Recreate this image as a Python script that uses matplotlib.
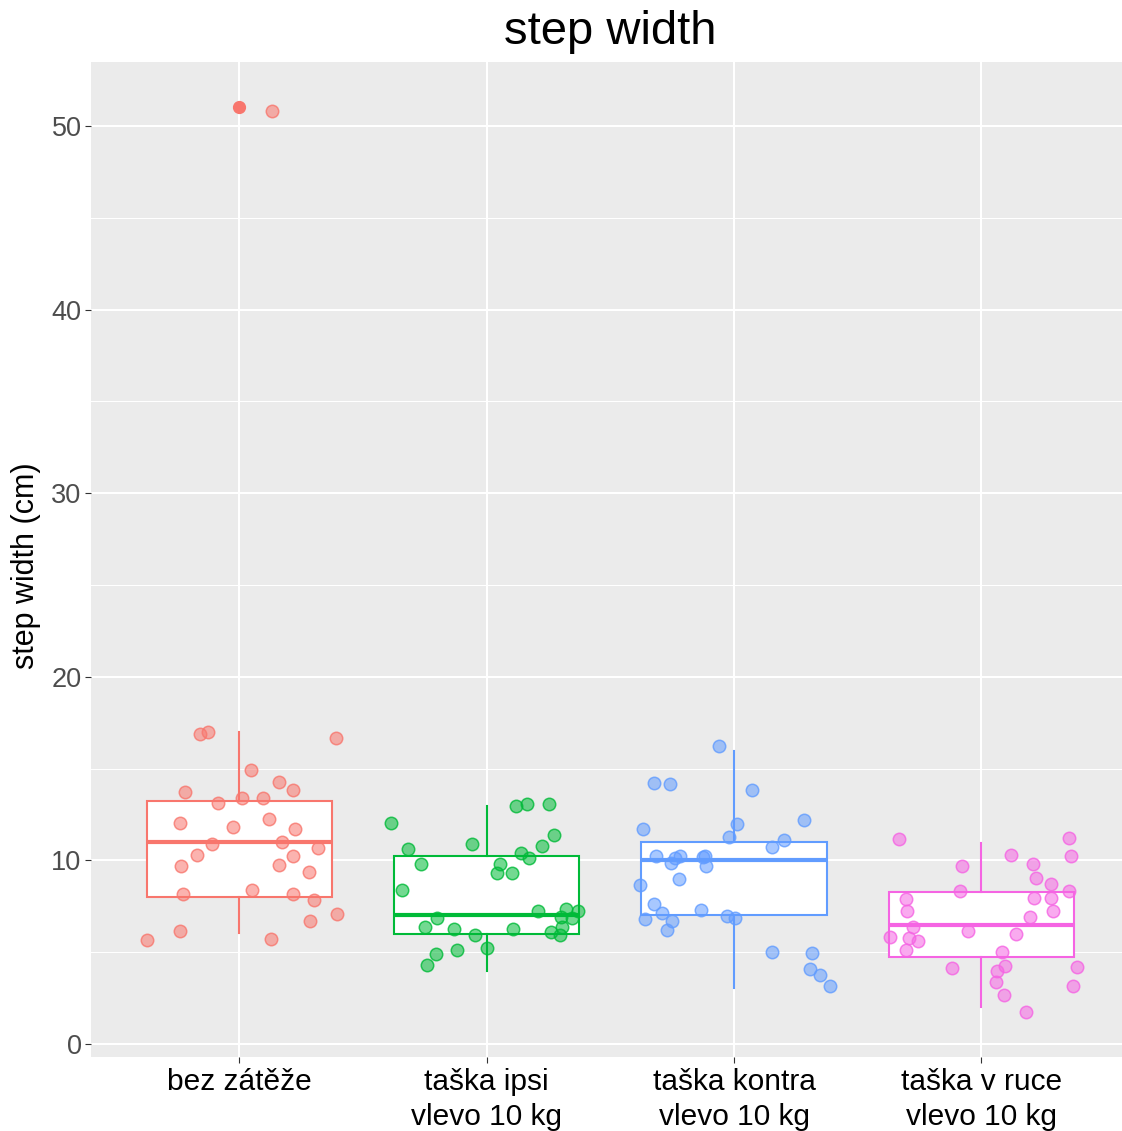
import matplotlib
matplotlib.use("Agg")
import matplotlib.pyplot as plt
import matplotlib.colors as mcolors
import numpy as np

plt.rcParams['font.family'] = ['Liberation Sans', 'DejaVu Sans']

# ---- data ----
categories = ["bez zátěže", "taška ipsi\nvlevo 10 kg", "taška kontra\nvlevo 10 kg", "taška v ruce\nvlevo 10 kg"]
colors = ["#F8766D", "#00BA38", "#619CFF", "#F564E3"]

# boxplot statistics per group
q1 = [7.99, 6.01, 7.01, 4.76]
med = [11.0, 7.03, 10.02, 6.48]
q3 = [13.24, 10.24, 10.98, 8.26]
whis_lo = [6.03, 3.99, 3.03, 2.03]
whis_hi = [16.98, 12.98, 15.98, 10.96]
outliers = [[51.03], [], [], []]

# jittered observations: horizontal jitter (category units) and values
jit_x1 = [-0.161, -0.127, 0.391, 0.046, -0.221, 0.160, 0.216, -0.085, 0.012, 0.094,
          -0.239, -0.024, 0.120, 0.226, -0.111, 0.171, 0.319, -0.170, -0.236, 0.160,
          0.218, 0.283, -0.230, 0.050, 0.218, 0.302, 0.286, 0.396, -0.240, -0.375,
          0.129, 0.133]
val_1 = [16.88, 16.98, 16.69, 14.92, 13.74, 14.25, 13.82, 13.14, 13.38, 13.38,
         12.06, 11.84, 12.24, 11.73, 10.88, 10.98, 10.68, 10.28, 9.71, 9.75,
         10.26, 9.35, 8.15, 8.37, 8.19, 7.84, 6.68, 7.10, 6.17, 5.68,
         5.74, 50.83]

jit_x2 = [-0.387, 0.119, 0.163, 0.252, 0.273, 0.224, -0.059, -0.317, 0.139, 0.171,
          -0.265, 0.054, 0.043, 0.101, -0.341, 0.208, 0.321, 0.370, 0.301, 0.345,
          -0.201, 0.306, -0.249, -0.132, 0.107, 0.258, 0.295, -0.046, 0.003, -0.120,
          -0.203, -0.241]
val_2 = [12.06, 12.96, 13.09, 13.07, 11.40, 10.77, 10.88, 10.64, 10.39, 10.13,
         9.80, 9.82, 9.33, 9.31, 8.37, 7.26, 7.37, 7.26, 6.92, 6.86,
         6.84, 6.39, 6.36, 6.26, 6.25, 6.08, 5.94, 5.94, 5.25, 5.10,
         4.89, 4.30]

jit_x3 = [-0.059, -0.322, -0.260, 0.074, 0.285, -0.370, 0.013, -0.022, 0.202, 0.154,
          -0.314, -0.220, -0.237, -0.254, -0.119, -0.125, -0.113, -0.222, -0.379, -0.325,
          -0.293, -0.133, -0.361, -0.252, -0.028, 0.006, -0.270, 0.155, 0.314, 0.308,
          0.346, 0.390]
val_3 = [16.23, 14.20, 14.16, 13.82, 12.20, 11.71, 11.96, 11.29, 11.11, 10.73,
         10.22, 10.22, 10.11, 9.88, 10.24, 10.20, 9.68, 9.00, 8.64, 7.64,
         7.12, 7.31, 6.83, 6.72, 6.99, 6.88, 6.19, 5.01, 4.94, 4.10,
         3.74, 3.16]

jit_x4 = [-0.334, 0.356, 0.361, 0.120, -0.080, 0.207, 0.220, 0.280, -0.088, 0.353,
          -0.303, 0.214, 0.280, -0.301, 0.291, 0.195, -0.277, -0.055, 0.140, -0.370,
          -0.291, -0.256, -0.305, 0.085, 0.094, 0.388, -0.120, 0.062, 0.059, 0.372,
          0.093, 0.179]
val_4 = [11.15, 11.20, 10.26, 10.29, 9.68, 9.79, 9.06, 8.70, 8.33, 8.35,
         7.90, 7.93, 7.95, 7.24, 7.23, 6.92, 6.39, 6.17, 5.97, 5.83,
         5.77, 5.63, 5.14, 4.98, 4.25, 4.19, 4.12, 3.98, 3.36, 3.16,
         2.67, 1.73]

jit_x = [jit_x1, jit_x2, jit_x3, jit_x4]
vals = [val_1, val_2, val_3, val_4]

y_ticks = [0, 10, 20, 30, 40, 50]

# ---- figure ----
W, H = 1122, 1131
fig = plt.figure(figsize=(W / 100, H / 100), dpi=100)
ax = fig.add_axes([91 / W, (H - 1057.3) / H, 1038.7 / W, 995 / H])
ax.set_facecolor("#EBEBEB")
for s in ax.spines.values():
    s.set_visible(False)

positions = np.arange(1, len(categories) + 1)

for i, pos in enumerate(positions):
    st = [dict(med=med[i], q1=q1[i], q3=q3[i], whislo=whis_lo[i], whishi=whis_hi[i],
               fliers=outliers[i])]
    c = colors[i]
    ax.bxp(st, positions=[pos], widths=0.75, patch_artist=True, showcaps=False,
           boxprops=dict(facecolor="white", edgecolor=c, linewidth=1.5),
           medianprops=dict(color=c, linewidth=3.0, solid_capstyle="butt"),
           whiskerprops=dict(color=c, linewidth=1.5),
           flierprops=dict(marker="o", markerfacecolor=c, markeredgecolor=c,
                           markersize=8.5, linestyle="none"),
           zorder=2)

for i, pos in enumerate(positions):
    xs = pos + np.array(jit_x[i])
    fc = mcolors.to_rgba(colors[i], 0.55)
    ec = mcolors.to_rgba(colors[i], 0.8)
    ax.scatter(xs, vals[i], s=80, facecolors=[fc], edgecolors=[ec],
               linewidths=1.1, zorder=3)

ax.set_xlim(0.4, 4.6)
ax.set_ylim(-0.73, 53.48)
ax.set_yticks(y_ticks)
ax.set_yticks([5, 15, 25, 35, 45], minor=True)
ax.set_xticks(positions)
ax.set_xticklabels(categories, fontsize=21.5, color="black", linespacing=1.3)
ax.set_yticklabels([str(t) for t in y_ticks], fontsize=19.5, color="#4D4D4D")

ax.grid(which="major", color="white", linewidth=1.5)
ax.grid(which="minor", axis="y", color="white", linewidth=0.75)
ax.set_axisbelow(True)
ax.tick_params(which="major", length=4.3, width=0.8, color="#333333")
ax.tick_params(axis="x", which="major", pad=3.5)
ax.tick_params(axis="y", which="major", pad=2.5)
ax.tick_params(which="minor", length=0)

ax.set_title("step width", fontsize=34, pad=13.5)
fig.text(26 / W, (H - 566) / H, "step width (cm)", rotation=90, fontsize=22,
         ha="center", va="center")

fig.savefig("out.png", dpi=100)
